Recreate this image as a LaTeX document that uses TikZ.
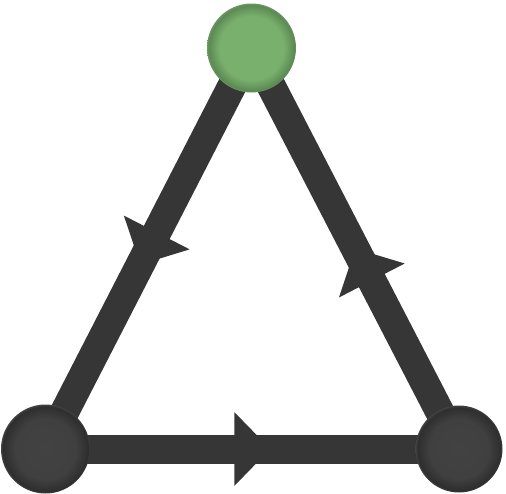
\documentclass[tikz,border=0pt]{standalone}
\usetikzlibrary{decorations.markings}
\definecolor{edgecol}{HTML}{363636}
\definecolor{gin}{HTML}{79B06D}
\definecolor{gout}{HTML}{5C8A53}
\definecolor{din}{HTML}{424242}
\definecolor{dout}{HTML}{2E2E2E}
\pgfdeclareradialshading{greenball}{\pgfpoint{0bp}{0bp}}{color(0bp)=(gin); color(18bp)=(gin); color(24bp)=(gout); color(25bp)=(gout!90!white); color(50bp)=(gout!90!white)}
\pgfdeclareradialshading{darkball}{\pgfpoint{0bp}{0bp}}{color(0bp)=(din); color(17bp)=(din!90!dout); color(24bp)=(dout); color(25bp)=(dout!90!white); color(50bp)=(dout!90!white)}
\tikzset{
  edge/.style={draw=edgecol, line width=29pt},
  headmid/.style={postaction={decorate, decoration={markings,
      mark=at position 0.5 with {\fill[edgecol] (18pt,0pt) -- (-18pt,37pt) -- (-18pt,-37pt) -- cycle;}}}},
  headtip/.style={postaction={decorate, decoration={markings,
      mark=at position 0.5 with {\fill[edgecol] (0pt,0pt) -- (-36pt,37pt) -- (-36pt,-37pt) -- cycle;}}}},
  ball/.style={circle, minimum size=89pt, inner sep=0pt, draw=none},
}
\begin{document}
\begin{tikzpicture}[x=1pt, y=-1pt]
\useasboundingbox (0,0) rectangle (506,493);
\coordinate (pT) at (251.5,48);
\coordinate (pL) at (45.5,449);
\coordinate (pR) at (459,449);
\draw[edge, headmid] (pT) -- (pL);
\draw[edge, headtip] (pR) -- (pT);
\draw[edge, headmid] (pL) -- (pR);
\node[ball, shade, shading=greenball] (T) at (pT) {};
\node[ball, shade, shading=darkball] (L) at (pL) {};
\node[ball, minimum size=87pt, shade, shading=darkball] (R) at (pR) {};
\end{tikzpicture}
\end{document}
